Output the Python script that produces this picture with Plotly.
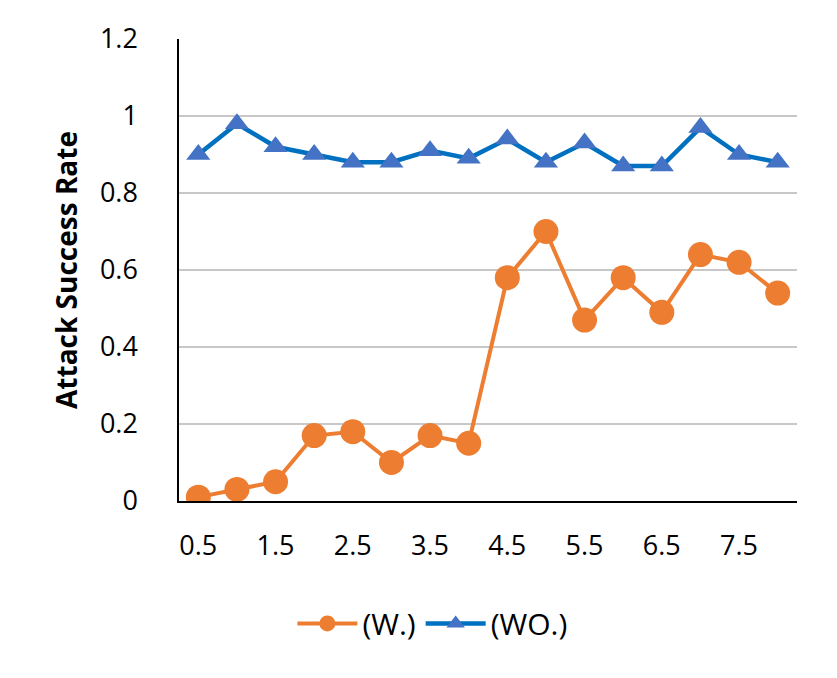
import plotly.graph_objects as go

categories = ["0.5", "1", "1.5", "2", "2.5", "3", "3.5", "4",
              "4.5", "5", "5.5", "6", "6.5", "7", "7.5", "8"]
with_vals = [0.01, 0.03, 0.05, 0.17, 0.18, 0.10, 0.17, 0.15,
             0.58, 0.70, 0.47, 0.58, 0.49, 0.64, 0.62, 0.54]
without_vals = [0.90, 0.98, 0.92, 0.90, 0.88, 0.88, 0.91, 0.89,
                0.94, 0.88, 0.93, 0.87, 0.87, 0.97, 0.90, 0.88]
y_ticks = [0, 0.2, 0.4, 0.6, 0.8, 1.0, 1.2]
y_ticktext = ["0", "0.2", "0.4", "0.6", "0.8", "1", "1.2"]

font = "Open Sans, Lato, sans-serif"

fig = go.Figure()
fig.add_trace(go.Scatter(
    x=categories, y=with_vals, name="(W.)", mode="lines+markers",
    line=dict(color="#ED7D31", width=4),
    marker=dict(symbol="circle", size=25, color="#ED7D31"),
))
fig.add_trace(go.Scatter(
    x=categories, y=without_vals, name="(WO.)", mode="lines+markers",
    line=dict(color="#0070C0", width=4.5),
    marker=dict(symbol="triangle-up", size=21, color="#4472C4"),
))

fig.update_layout(
    width=837, height=678,
    margin=dict(l=171, r=48, t=31, b=185),
    paper_bgcolor="white", plot_bgcolor="white",
    font=dict(family=font, size=27, color="black"),
    showlegend=True,
    legend=dict(orientation="h", x=0.41, xanchor="center", y=-0.265,
                yanchor="middle", font=dict(size=30), itemwidth=60),
    xaxis=dict(
        type="category", range=[-0.5, 15.5],
        tickvals=categories[::2], ticktext=categories[::2],
        showgrid=False, showline=True, linecolor="black", linewidth=1.5,
        ticks="", tickfont=dict(size=27), ticklabelstandoff=20,
    ),
    yaxis=dict(
        range=[0, 1.2], tickvals=y_ticks, ticktext=y_ticktext,
        showgrid=True, gridcolor="#C8C8C8", gridwidth=1.5,
        showline=True, linecolor="black", linewidth=1.5,
        zeroline=False, ticks="", ticklabelstandoff=34,
        tickfont=dict(size=27),
        title=dict(text="<b>Attack Success Rate</b>", font=dict(size=28), standoff=14),
    ),
)
fig.write_html("out.html")
